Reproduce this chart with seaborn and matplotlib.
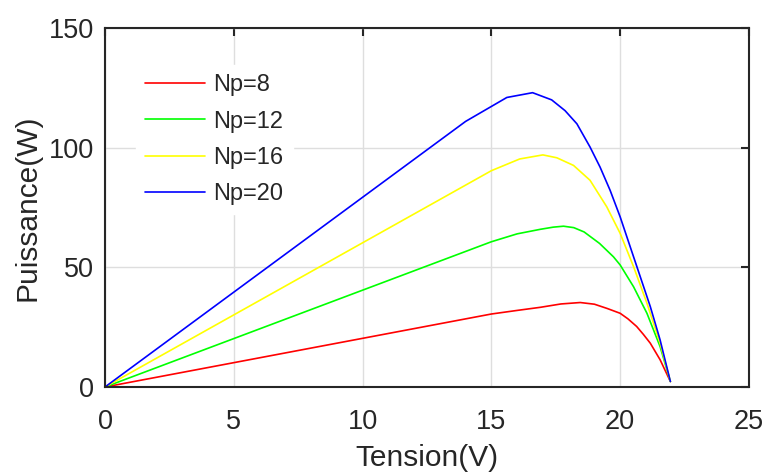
import pandas as pd
import matplotlib
import matplotlib.pyplot as plt
import seaborn as sns

matplotlib.use('Agg')

# Curves (voltage in V, power in W)
v_np8 = [0, 15.0, 16.0, 16.9, 17.7, 18.45, 19.0, 19.5, 20.0, 20.3, 20.64, 20.9, 21.17, 21.55, 21.95]
p_np8 = [0, 30.5, 32.0, 33.3, 34.7, 35.3, 34.6, 32.8, 30.8, 28.5, 25.3, 22.0, 18.3, 11.4, 2.3]

v_np12 = [0, 15.0, 16.0, 16.9, 17.4, 17.8, 18.2, 18.6, 19.2, 19.74, 20.0, 20.52, 21.04, 21.55, 21.95]
p_np12 = [0, 60.7, 64.0, 65.9, 66.8, 67.2, 66.6, 64.8, 60.0, 54.4, 51.0, 41.9, 30.8, 16.9, 2.3]

v_np16 = [0, 15.0, 16.1, 17.0, 17.54, 18.19, 18.83, 19.48, 20.0, 20.52, 21.04, 21.55, 21.95]
p_np16 = [0, 90.4, 95.3, 97.0, 95.8, 92.6, 86.4, 75.3, 64.2, 50.3, 35.0, 18.3, 2.3]

v_np20 = [0, 14.0, 15.6, 16.6, 17.34, 17.86, 18.32, 18.83, 19.22, 19.61, 20.0, 20.39, 20.78, 21.17, 21.55, 21.95]
p_np20 = [0, 111.0, 121.0, 123.0, 120.0, 115.5, 110.0, 100.3, 91.9, 82.2, 71.1, 58.6, 46.1, 33.6, 19.7, 2.3]

labels = ['Np=8', 'Np=12', 'Np=16', 'Np=20']
colors = {'Np=8': '#ff0000', 'Np=12': '#00ff00', 'Np=16': '#ffff00', 'Np=20': '#0000ff'}

frames = []
for lab, v, p in zip(labels, [v_np8, v_np12, v_np16, v_np20], [p_np8, p_np12, p_np16, p_np20]):
    frames.append(pd.DataFrame({'Tension': v, 'Puissance': p, 'Np': lab}))
data = pd.concat(frames, ignore_index=True)

sns.set_style('whitegrid')
plt.rcParams['font.family'] = ['Liberation Sans', 'DejaVu Sans']
plt.rcParams['text.color'] = '#262626'
plt.rcParams['axes.labelcolor'] = '#262626'
plt.rcParams['xtick.color'] = '#262626'
plt.rcParams['ytick.color'] = '#262626'

fig = plt.figure(figsize=(7.65, 4.76), dpi=100)
ax = fig.add_axes([0.1373, 0.187, 0.8417, 0.754])

sns.lineplot(data=data, x='Tension', y='Puissance', hue='Np', hue_order=labels,
             palette=colors, sort=False, estimator=None, linewidth=1.2, ax=ax)

ax.set_xlim(0, 25)
ax.set_ylim(0, 150)
ax.set_xticks([0, 5, 10, 15, 20, 25])
ax.set_yticks([0, 50, 100, 150])
ax.set_xlabel('Tension(V)', fontsize=21.5, labelpad=6)
ax.set_ylabel('Puissance(W)', fontsize=21.5, labelpad=5)

ax.grid(True, color='#dedede', linewidth=1.0)
for s in ax.spines.values():
    s.set_color('#262626')
    s.set_linewidth(1.5)
ax.tick_params(axis='both', which='both', direction='in', length=6, width=1.5,
               labelsize=19.5, top=True, right=True)
ax.tick_params(axis='x', pad=16)
ax.tick_params(axis='y', pad=8)

handles, labs = ax.get_legend_handles_labels()
leg = ax.legend(handles, labs, loc='upper left', bbox_to_anchor=(0.0475, 0.897),
                fontsize=17, frameon=True, facecolor='white', edgecolor='white',
                framealpha=1, fancybox=False, handlelength=2.54, handletextpad=0.34,
                labelspacing=0.6, borderaxespad=0)

plt.savefig('out.png', dpi=100)
plt.close()
